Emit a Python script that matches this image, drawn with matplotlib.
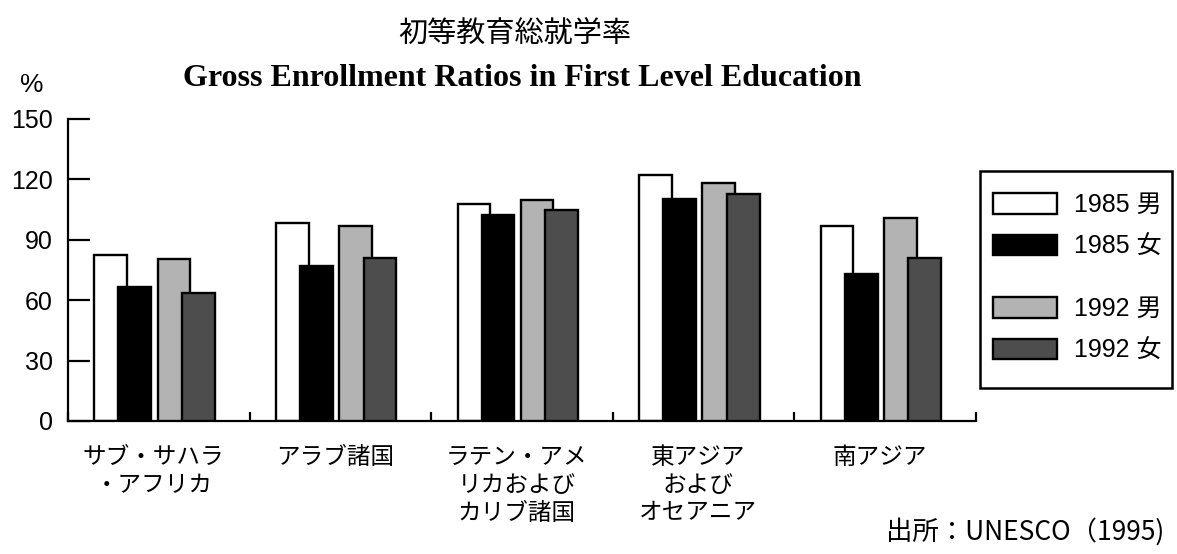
import matplotlib
matplotlib.use("Agg")
import matplotlib.pyplot as plt
from matplotlib.patches import Patch, Rectangle
import numpy as np

# Regions and gross enrollment ratios (%)
regions = ["サブ・サハラ\n・アフリカ", "アラブ諸国", "ラテン・アメ\nリカおよび\nカリブ諸国",
           "東アジア\nおよび\nオセアニア", "南アジア"]
series_labels = ["1985 男", "1985 女", "1992 男", "1992 女"]
male_1985 = [82.3, 98.3, 107.7, 122.3, 96.9]
female_1985 = [66.5, 77.2, 102.4, 110.4, 73.0]
male_1992 = [80.6, 96.8, 109.9, 118.2, 100.7]
female_1992 = [63.4, 80.8, 104.7, 112.8, 80.8]
yticks = [0, 30, 60, 90, 120, 150]

CJK = ["Noto Sans CJK JP", "DejaVu Sans"]
plt.rcParams["font.family"] = ["Liberation Sans", "Noto Sans CJK JP", "DejaVu Sans"]

W, H = 1177, 554
fig = plt.figure(figsize=(W / 100, H / 100), dpi=100)
ax = fig.add_axes([68 / W, 133 / H, 908 / W, 302 / H])

series = [male_1985, female_1985, male_1992, female_1992]
colors = ["white", "black", "#b3b3b3", "#4d4d4d"]
offsets = [-0.265, -0.132, 0.083, 0.218]
width = 0.18
centers = np.arange(len(regions)) + 0.5

handles = []
for i, (vals, col, off) in enumerate(zip(series, colors, offsets)):
    ax.bar(centers + off, vals, width=width, color=col, edgecolor="black",
           linewidth=1.7, zorder=2 + i)
    handles.append(Patch(facecolor=col, edgecolor="black", linewidth=1.7))

ax.set_xlim(0, len(regions))
ax.set_ylim(0, 150)
ax.set_yticks(yticks)
ax.set_xticks(np.arange(len(regions) + 1))
ax.tick_params(axis="x", direction="in", length=6.5, width=1.6, labelbottom=False)
ax.tick_params(axis="y", direction="in", length=16, width=1.6, pad=11, labelsize=18)
for s in ["top", "right"]:
    ax.spines[s].set_visible(False)
for s in ["left", "bottom"]:
    ax.spines[s].set_linewidth(1.6)

for c, lab in zip(centers, regions):
    ax.text(c - 0.03, -12.5, lab, ha="center", va="top", fontsize=17,
            family=CJK, linespacing=1.26)

# Titles and annotations
fig.text(515 / W, 1 - 35 / H, "初等教育総就学率", ha="center", va="center",
         fontsize=21, family=CJK)
fig.text(522 / W, 1 - 78 / H, "Gross Enrollment Ratios in First Level Education",
         ha="center", va="center", fontsize=23, family="Liberation Serif",
         weight="bold")
fig.text(32 / W, 1 - 85 / H, "%", ha="center", va="center", fontsize=19)
fig.text(1164 / W, 1 - 532 / H, "出所：UNESCO（1995)", ha="right", va="center",
         fontsize=19, family=CJK)

# Legend: two groups inside one frame
leg_kw = dict(frameon=False, fontsize=18, handlelength=2.56, handleheight=0.9,
              handletextpad=0.7, labelspacing=0.7, borderpad=0, borderaxespad=0,
              loc="upper left")
leg1 = fig.legend(handles[:2], series_labels[:2], bbox_to_anchor=(993 / W, 1 - 193 / H), **leg_kw)
leg2 = fig.legend(handles[2:], series_labels[2:], bbox_to_anchor=(993 / W, 1 - 297 / H), **leg_kw)
fig.patches.append(Rectangle((980 / W, 1 - 388 / H), 192 / W, 217 / H,
                             transform=fig.transFigure, fill=False,
                             edgecolor="black", linewidth=1.8))

fig.savefig("out.png", dpi=100)
